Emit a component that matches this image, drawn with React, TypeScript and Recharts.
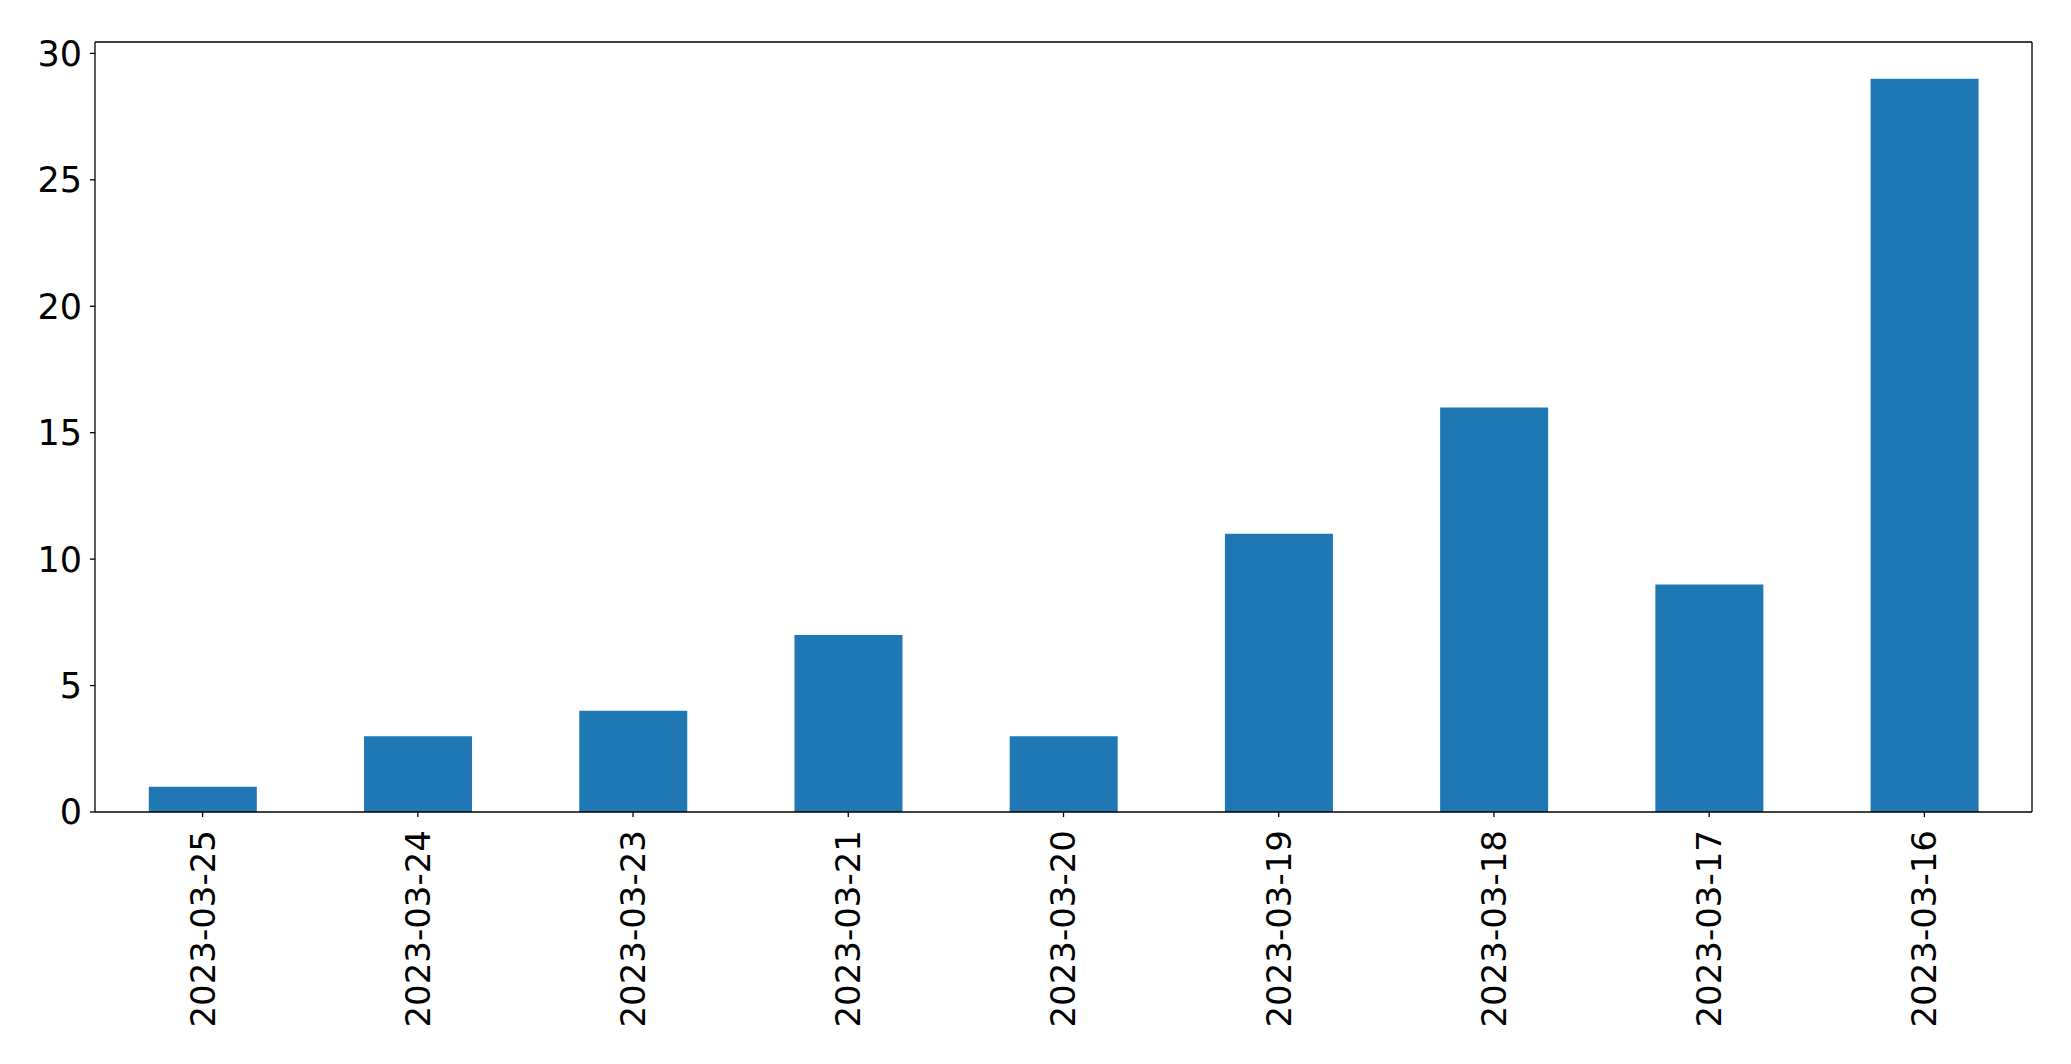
import { BarChart, Bar, XAxis, YAxis } from "recharts";

// categories and counts, in the order they appear left to right
const dates = [
  "2023-03-25",
  "2023-03-24",
  "2023-03-23",
  "2023-03-21",
  "2023-03-20",
  "2023-03-19",
  "2023-03-18",
  "2023-03-17",
  "2023-03-16",
];
const counts = [1, 3, 4, 7, 3, 11, 16, 9, 29];
const yTicks = [0, 5, 10, 15, 20, 25, 30];

const data = dates.map((d, i) => ({ date: d, count: counts[i] }));

const FONT = "DejaVu Sans";
const frame = { stroke: "#000", strokeWidth: 1.3 };

const DateTick = (props: any) => {
  const { x, y, payload } = props;
  return (
    <text
      x={x}
      y={y}
      transform={`rotate(-90, ${x}, ${y})`}
      textAnchor="end"
      dy="0.35em"
      fontFamily={FONT}
      fontSize={34}
      fill="#000"
    >
      {payload.value}
    </text>
  );
};

const App = () => {
  return (
    <div style={{ position: "absolute", left: 0, top: 0, background: "#fff" }}>
      <BarChart
        width={2071}
        height={1064}
        data={data}
        margin={{ top: 41, right: 38, left: 15, bottom: 12 }}
        barCategoryGap="25%"
      >
        <XAxis
          dataKey="date"
          interval={0}
          height={240}
          tickSize={5}
          tickMargin={13}
          tick={<DateTick />}
          axisLine={frame}
          tickLine={frame}
        />
        <XAxis
          xAxisId="top"
          dataKey="date"
          orientation="top"
          height={1}
          tick={false}
          tickLine={false}
          axisLine={frame}
        />
        <YAxis
          width={80}
          domain={[0, 30.45]}
          ticks={yTicks}
          interval={0}
          tickSize={5}
          tickMargin={8}
          tick={{ fontFamily: FONT, fontSize: 35, fill: "#000" }}
          axisLine={frame}
          tickLine={frame}
        />
        <YAxis
          yAxisId="right"
          orientation="right"
          width={1}
          domain={[0, 30.45]}
          tick={false}
          tickLine={false}
          axisLine={frame}
        />
        <Bar dataKey="count" fill="#1f77b4" isAnimationActive={false} />
        {/* invisible series so the frame axes are drawn */}
        <Bar
          dataKey="count"
          xAxisId="top"
          yAxisId="right"
          fill="none"
          isAnimationActive={false}
        />
      </BarChart>
    </div>
  );
};

export default App;
